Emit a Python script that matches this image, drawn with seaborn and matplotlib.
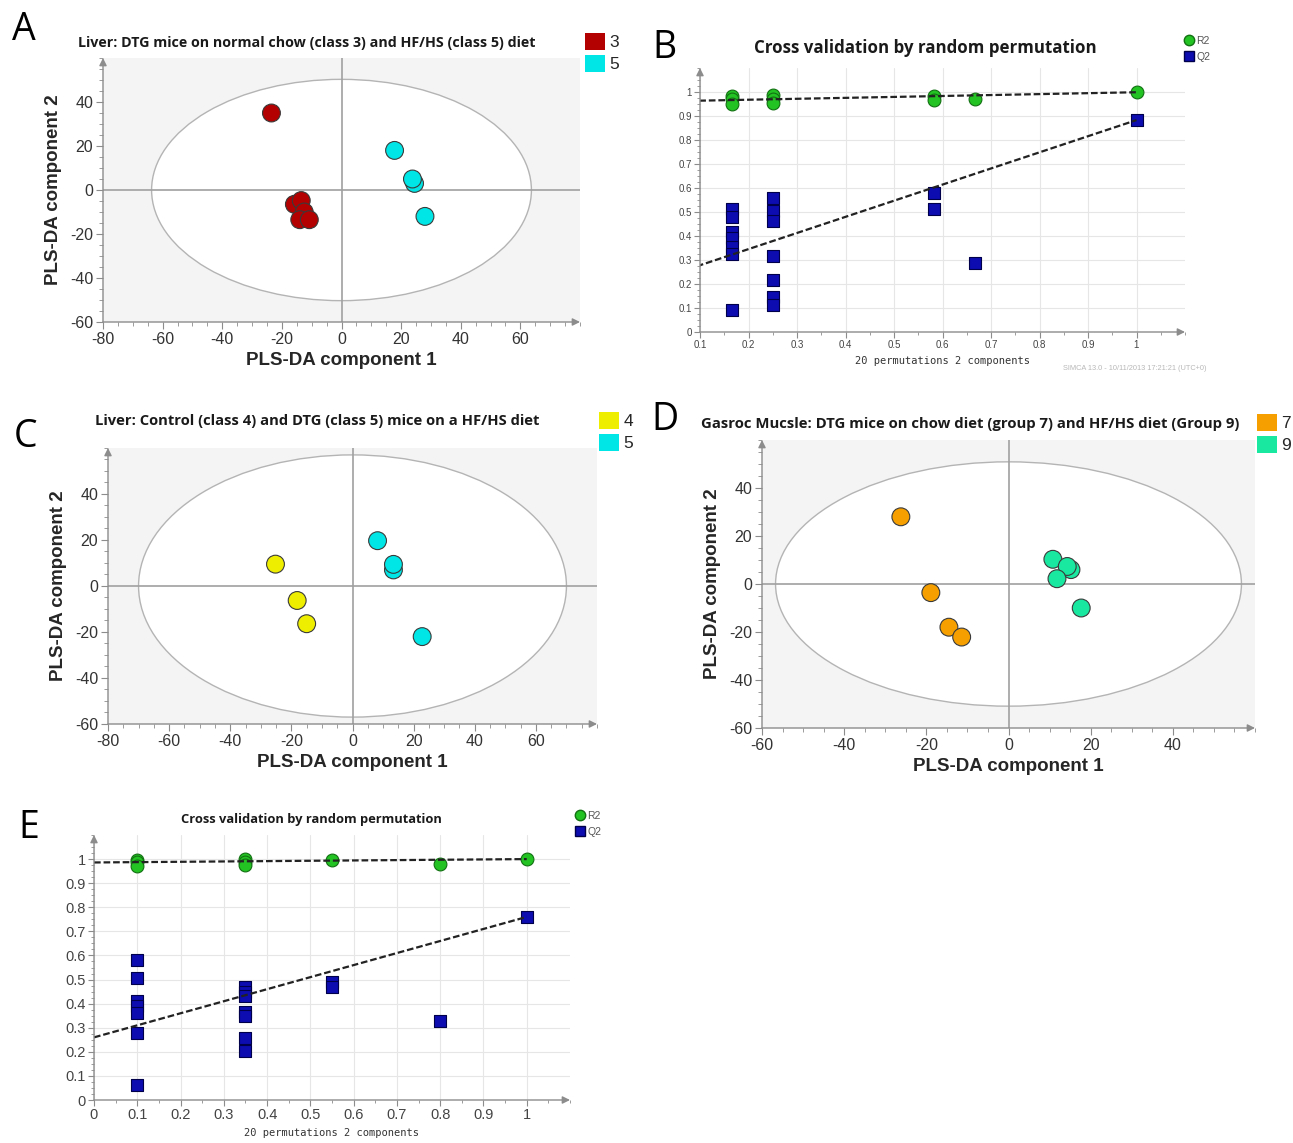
import numpy as np
import pandas as pd
import matplotlib
matplotlib.use("Agg")
import matplotlib.pyplot as plt
from matplotlib.patches import Ellipse, Patch
from matplotlib.lines import Line2D
from matplotlib.ticker import MultipleLocator
import seaborn as sns

W, H = 1293, 1143

# === Panel A: liver, DTG mice on chow (class 3) vs HF/HS (class 5) ===
a_class = ["3", "3", "3", "3", "3", "3", "5", "5", "5", "5"]
a_pc1 = [-23.5, -15.8, -13.5, -12.5, -14.0, -10.8, 17.8, 24.5, 23.8, 28.0]
a_pc2 = [35.0, -6.5, -4.8, -10.0, -13.5, -13.5, 18.0, 3.0, 5.0, -12.0]
a_ellipse = [63.7, 50.3]
a_palette = {"3": "#b30000", "5": "#00e6e6"}

# === Panel C: liver, control (class 4) vs DTG (class 5) on HF/HS ===
c_class = ["4", "4", "4", "5", "5", "5", "5"]
c_pc1 = [-25.2, -18.1, -15.0, 8.2, 13.4, 13.4, 22.8]
c_pc2 = [9.5, -6.3, -16.4, 19.7, 7.0, 9.4, -22.0]
c_ellipse = [70.0, 57.0]
c_palette = {"4": "#eeee00", "5": "#00e6e6"}

# === Panel D: gastrocnemius, DTG on chow (group 7) vs HF/HS (group 9) ===
d_class = ["7", "7", "7", "7", "9", "9", "9", "9", "9"]
d_pc1 = [-26.2, -18.9, -14.5, -11.4, 10.8, 15.2, 14.3, 11.8, 17.7]
d_pc2 = [28.0, -3.6, -18.0, -22.1, 10.3, 6.0, 7.3, 2.2, -10.0]
d_ellipse = [56.7, 50.9]
d_palette = {"7": "#f5a000", "9": "#19e8a0"}

# === Panel B: permutation test (liver) ===
b_r2_x = [0.167, 0.167, 0.167, 0.25, 0.25, 0.25, 0.583, 0.583, 0.667, 1.0]
b_r2_y = [0.983, 0.970, 0.952, 0.986, 0.972, 0.956, 0.982, 0.968, 0.972, 0.999]
b_q2_x = [0.167] * 7 + [0.25] * 7 + [0.583, 0.583, 0.667, 1.0]
b_q2_y = [0.512, 0.480, 0.418, 0.392, 0.353, 0.323, 0.092,
          0.560, 0.505, 0.464, 0.316, 0.216, 0.147, 0.113,
          0.580, 0.512, 0.288, 0.883]
b_intercepts = [0.960, 0.211]  # R2, Q2 at x = 0

# === Panel E: permutation test (muscle) ===
e_r2_x = [0.1, 0.1, 0.1, 0.35, 0.35, 0.35, 0.55, 0.8, 1.0]
e_r2_y = [0.997, 0.990, 0.972, 1.0, 0.986, 0.976, 0.997, 0.979, 1.0]
e_q2_x = [0.1] * 7 + [0.35] * 7 + [0.55, 0.55, 0.8, 1.0]
e_q2_y = [0.582, 0.508, 0.413, 0.390, 0.360, 0.277, 0.062,
          0.468, 0.450, 0.432, 0.367, 0.349, 0.256, 0.205,
          0.489, 0.468, 0.328, 0.760]
e_intercepts = [0.986, 0.260]

sns.set_style("ticks")
plt.rcParams["font.family"] = ["Liberation Sans", "DejaVu Sans"]
plt.rcParams["axes.unicode_minus"] = False

R2_COLOR, R2_EDGE = "#22c322", "#137013"
Q2_COLOR, Q2_EDGE = "#0c0cb0", "#00004a"
AXIS_GRAY = "#8c8c8c"


def px_axes(fig, left, top, right, bottom):
    return fig.add_axes([left / W, 1 - bottom / H, (right - left) / W, (bottom - top) / H])


def px_text(fig, x, y, s, **kw):
    fig.text(x / W, 1 - y / H, s, **kw)


def add_arrows(ax):
    for s in ax.spines.values():
        s.set_visible(False)
    style = dict(arrowstyle="-|>", color=AXIS_GRAY, lw=1.0, shrinkA=0, shrinkB=0, mutation_scale=11)
    ax.annotate("", xy=(0, 1.0), xytext=(0, 0), xycoords="axes fraction", arrowprops=style, zorder=6)
    ax.annotate("", xy=(1.0, 0), xytext=(0, 0), xycoords="axes fraction", arrowprops=style, zorder=6)


def draw_pls(ax, pc1, pc2, cls, palette, ellipse, xlim, xticks):
    df = pd.DataFrame({"pc1": pc1, "pc2": pc2, "cls": cls})
    ax.set_facecolor("#f4f4f4")
    ax.add_patch(Ellipse((0, 0), 2 * ellipse[0], 2 * ellipse[1], facecolor="white",
                         edgecolor="#b4b4b4", lw=1.0, zorder=1))
    ax.axhline(0, color="#a0a0a0", lw=1.2, zorder=2)
    ax.axvline(0, color="#a0a0a0", lw=1.2, zorder=2)
    sns.scatterplot(data=df, x="pc1", y="pc2", hue="cls", palette=palette, s=165,
                    edgecolor="#3a3a3a", linewidth=0.8, legend=False, ax=ax, zorder=3)
    ax.set_xlim(xlim)
    ax.set_ylim(-60, 60)
    ax.set_xticks(xticks)
    ax.set_yticks(range(-60, 41, 20))
    ax.xaxis.set_minor_locator(MultipleLocator(5))
    ax.yaxis.set_minor_locator(MultipleLocator(5))
    ax.tick_params(which="both", colors=AXIS_GRAY, labelcolor="#333333", labelsize=11.5,
                   direction="out")
    ax.tick_params(which="major", length=5, width=0.8, pad=2)
    ax.tick_params(which="minor", length=3, width=0.6)
    ax.set_xlabel("PLS-DA component 1", fontsize=13.5, fontweight="bold", labelpad=4)
    ax.set_ylabel("PLS-DA component 2", fontsize=13.5, fontweight="bold", labelpad=6)
    add_arrows(ax)


def draw_perm(ax, r2_x, r2_y, q2_x, q2_y, intercepts, xmin, labelsize, s_c, s_s):
    ax.set_facecolor("white")
    ax.set_xlim(xmin, 1.1)
    ax.set_ylim(0, 1.1)
    ax.set_xticks(np.round(np.arange(xmin, 1.01, 0.1), 1))
    ax.set_yticks(np.round(np.arange(0, 1.01, 0.1), 1))
    ax.xaxis.set_minor_locator(MultipleLocator(0.05))
    ax.yaxis.set_minor_locator(MultipleLocator(0.025))
    ax.xaxis.set_major_formatter(lambda v, _: f"{v:g}")
    ax.yaxis.set_major_formatter(lambda v, _: f"{v:g}")
    ax.grid(True, which="major", color="#e6e6e6", lw=0.8)
    ax.set_axisbelow(True)
    ax.tick_params(which="both", colors=AXIS_GRAY, labelcolor="#444444", labelsize=labelsize,
                   direction="out")
    ax.tick_params(which="major", length=4, width=0.8, pad=2)
    ax.tick_params(which="minor", length=2.5, width=0.6)
    sns.scatterplot(x=r2_x, y=r2_y, marker="o", color=R2_COLOR, edgecolor=R2_EDGE,
                    linewidth=0.8, s=s_c, ax=ax, zorder=4)
    sns.scatterplot(x=q2_x, y=q2_y, marker="s", color=Q2_COLOR, edgecolor=Q2_EDGE,
                    linewidth=0.8, s=s_s, ax=ax, zorder=4)
    ax.plot([0, r2_x[-1]], [intercepts[0], r2_y[-1]], color="#222222", lw=1.6,
            dashes=(3, 1.3), zorder=5)
    ax.plot([0, q2_x[-1]], [intercepts[1], q2_y[-1]], color="#222222", lw=1.6,
            dashes=(3, 1.3), zorder=5)
    ax.set_xlabel("20 permutations 2 components", family="DejaVu Sans Mono", fontsize=7.5,
                  color="#333333", labelpad=4)
    ax.set_ylabel("")
    add_arrows(ax)


def class_legend(fig, x, y, palette):
    handles = [Patch(facecolor=c, edgecolor="none") for c in palette.values()]
    fig.legend(handles, list(palette.keys()), loc="upper left", bbox_to_anchor=(x / W, 1 - y / H),
               frameon=False, fontsize=12.5, handlelength=1.15, handleheight=1.15,
               handletextpad=0.25, labelspacing=0.25, borderpad=0, borderaxespad=0)


def perm_legend(fig, x, y, size):
    handles = [
        Line2D([], [], ls="none", marker="o", markersize=size, markerfacecolor=R2_COLOR,
               markeredgecolor=R2_EDGE),
        Line2D([], [], ls="none", marker="s", markersize=size * 0.9, markerfacecolor=Q2_COLOR,
               markeredgecolor=Q2_EDGE),
    ]
    fig.legend(handles, ["R2", "Q2"], loc="upper left", bbox_to_anchor=(x / W, 1 - y / H),
               frameon=False, fontsize=7.5, handlelength=0.8, handletextpad=0.3,
               labelspacing=0.55, borderpad=0, borderaxespad=0, labelcolor="#555555")


fig = plt.figure(figsize=(W / 100, H / 100), dpi=100)
fig.patch.set_facecolor("white")

title_kw = dict(family=["Open Sans", "DejaVu Sans"], fontweight="bold", va="center",
                color="#1a1a1a")
letter_kw = dict(family=["Open Sans", "DejaVu Sans"], fontsize=27, va="baseline", color="black")

# A
ax_a = px_axes(fig, 103, 58, 580, 322)
draw_pls(ax_a, a_pc1, a_pc2, a_class, a_palette, a_ellipse, (-80, 80), range(-80, 61, 20))
px_text(fig, 78, 43, "Liver: DTG mice on normal chow (class 3) and HF/HS (class 5) diet",
        fontsize=10.3, **title_kw)
class_legend(fig, 585, 33, a_palette)
px_text(fig, 12, 40, "A", **letter_kw)

# B
ax_b = px_axes(fig, 700, 68, 1185, 332)
draw_perm(ax_b, b_r2_x, b_r2_y, b_q2_x, b_q2_y, b_intercepts, 0.1, 7, 85, 70)
px_text(fig, 925, 48, "Cross validation by random permutation", fontsize=12.2, ha="center",
        **title_kw)
perm_legend(fig, 1185, 36, 7.5)
px_text(fig, 1063, 369, "SIMCA 13.0 - 10/11/2013 17:21:21 (UTC+0)", fontsize=5.3,
        color="#b8b8b8", va="center")
px_text(fig, 652, 58, "B", **letter_kw)

# C
ax_c = px_axes(fig, 108, 448, 597, 724)
draw_pls(ax_c, c_pc1, c_pc2, c_class, c_palette, c_ellipse, (-80, 80), range(-80, 61, 20))
px_text(fig, 95, 421, "Liver: Control (class 4) and DTG (class 5) mice on a HF/HS diet",
        fontsize=10.6, **title_kw)
class_legend(fig, 599, 412, c_palette)
px_text(fig, 14, 447, "C", **letter_kw)

# D
ax_d = px_axes(fig, 762, 440, 1255, 728)
draw_pls(ax_d, d_pc1, d_pc2, d_class, d_palette, d_ellipse, (-60, 60), range(-60, 41, 20))
px_text(fig, 701, 424,
        "Gasroc Mucsle: DTG mice on chow diet (group 7) and HF/HS diet (Group 9)",
        fontsize=10.7, **title_kw)
class_legend(fig, 1257, 414, d_palette)
px_text(fig, 651, 430, "D", **letter_kw)

# E
ax_e = px_axes(fig, 94, 835, 570, 1100)
draw_perm(ax_e, e_r2_x, e_r2_y, e_q2_x, e_q2_y, e_intercepts, 0.0, 10.5, 85, 70)
px_text(fig, 311, 819, "Cross validation by random permutation", fontsize=9.3, ha="center",
        **title_kw)
perm_legend(fig, 576, 811, 7.5)
px_text(fig, 18, 838, "E", **letter_kw)

fig.savefig("out.png", dpi=100, facecolor="white")
